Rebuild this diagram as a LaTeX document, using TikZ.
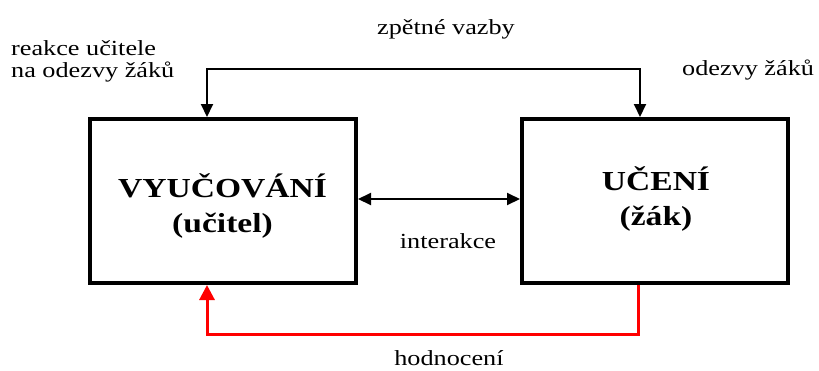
\documentclass[tikz,border=0pt]{standalone}
\usepackage{fontspec}
\setmainfont{Liberation Serif}[FakeStretch=1.22]
\usetikzlibrary{arrows.meta}
\begin{document}
\begin{tikzpicture}[x=1pt,y=-1pt,
  box/.style={draw,line width=4pt,minimum width=266pt,minimum height=164pt,inner sep=0pt},
  lbl/.style={inner sep=0pt,anchor=base,font=\fontsize{21.5}{22}\selectfont},
  big/.style={inner sep=0pt,anchor=base,font=\bfseries\fontsize{27.5}{35}\selectfont},
  conn/.style={line width=2pt,-{Triangle[length=13pt,width=12pt]}},
  dconn/.style={line width=2pt,{Triangle[length=13pt,width=12pt]}-{Triangle[length=13pt,width=12pt]}},
  red/.style={draw=red,line width=3pt,-{Triangle[length=15pt,width=15pt]}}]
\useasboundingbox (0,0) rectangle (819,370);
\node[box] (L) at (223,201) {};
\node[box] (R) at (655,201) {};
\node[big] (l1) at (222.5,197) {VYUČOVÁNÍ};
\node[big] (l2) at (222.5,232) {(učitel)};
\node[big] (r1) at (656,190) {UČENÍ};
\node[big] (r2) at (656,225) {(žák)};
\coordinate (tl) at (207,69);
\coordinate (tr) at (640,69);
\draw[conn] (tl) -- (tl -| tr) -- ([xshift=-15pt]R.north);
\draw[conn] (tr) -- (tl) -- ([xshift=-16pt]L.north);
\draw[dconn] ([yshift=2pt]L.east) -- ([yshift=2pt]R.west);
\coordinate (bl) at (207,334);
\coordinate (br) at (638,334);
\draw[red] ([xshift=-17pt]R.south) -- (br) -- (bl) -- ([xshift=-16pt]L.south);
\node[lbl] (zv) at (446,34) {zpětné vazby};
\node[lbl,anchor=base west] (ru1) at (11,55) {reakce učitele};
\node[lbl,anchor=base west] (ru2) at (11,77) {na odezvy žáků};
\node[lbl,anchor=base west] (oz) at (682,75) {odezvy žáků};
\node[lbl] (ia) at (448,248) {interakce};
\node[lbl] (ho) at (449,365) {hodnocení};
\end{tikzpicture}
\end{document}
